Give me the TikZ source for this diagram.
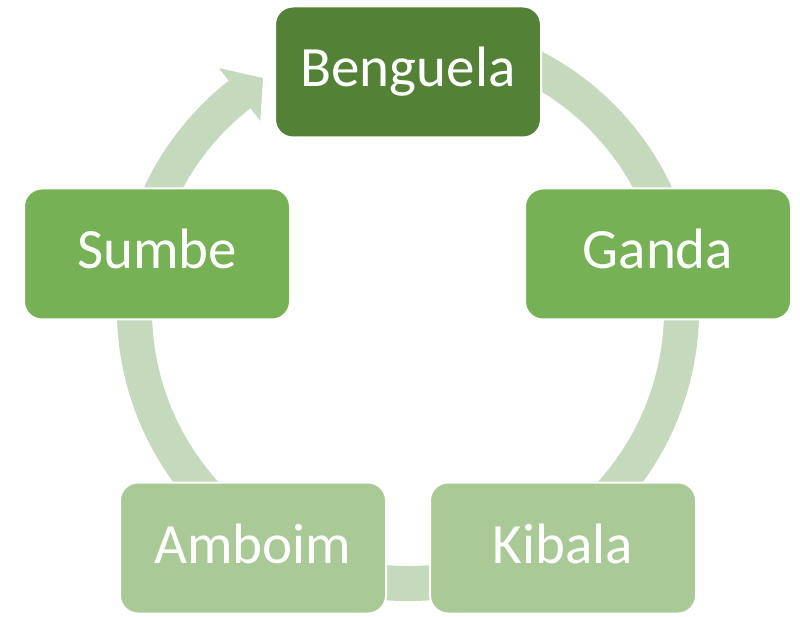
\documentclass[tikz,border=0pt]{standalone}
\usepackage{fontspec}
\setmainfont{Carlito}
\usetikzlibrary{calc}
\definecolor{darkgr}{HTML}{538135}
\definecolor{midgr}{HTML}{76B155}
\definecolor{lightgr}{HTML}{A9C997}
\definecolor{bandgr}{HTML}{C5D9BC}
\begin{document}
\begin{tikzpicture}[x=1pt,y=1pt,
  cbox/.style={rectangle, rounded corners=18pt, minimum width=266pt, minimum height=131pt,
    draw=white, line width=2pt, text=white, font=\fontsize{57}{60}\selectfont,
    inner sep=0pt, text height=36pt, text depth=6pt}]
\useasboundingbox (0,0) rectangle (800,616);
\coordinate (c) at (408,306);
\fill[bandgr] ($(c)+(70:291)$) arc[start angle=70,end angle=-232,radius=291]
  -- ($(c)+(128:307)$) -- ($(c)+(122:273.5)$) -- ($(c)+(128:240)$)
  -- ($(c)+(128:256)$) arc[start angle=-232,end angle=70,radius=256] -- cycle;
\node[cbox, fill=darkgr] (benguela) at (408,544) {Benguela};
\node[cbox, fill=midgr] (ganda) at (658,362) {Ganda};
\node[cbox, fill=lightgr] (kibala) at (563,68) {Kibala};
\node[cbox, fill=lightgr] (amboim) at (253,68) {Amboim};
\node[cbox, fill=midgr] (sumbe) at (157,362) {Sumbe};
\end{tikzpicture}
\end{document}
